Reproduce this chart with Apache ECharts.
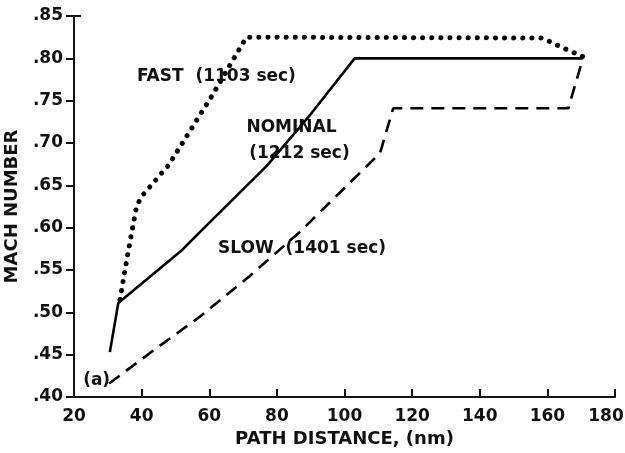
<!DOCTYPE html>
<html>
<head>
<meta charset="utf-8">
<script src="https://cdn.jsdelivr.net/npm/echarts@6/dist/echarts.min.js"></script>
<style>html,body{margin:0;padding:0;background:#fff;}#c{width:625px;height:453px;}</style>
</head>
<body>
<div id="c"></div>
<script>
// Data (x: path distance nm, y: Mach number)
const fastData = [[33.6,0.515],[35.6,0.562],[37.1,0.595],[38.5,0.625],[40.0,0.637],[48.0,0.674],[61.0,0.757],[67.0,0.798],[71.0,0.825],[158.5,0.824],[163.7,0.814],[170.5,0.802]];
const nominalData = [[30.6,0.453],[33.1,0.511],[51.8,0.573],[57.3,0.595],[77.0,0.673],[89.8,0.733],[103.0,0.800],[170.5,0.800]];
const slowData = [[30.4,0.416],[43.5,0.455],[57.3,0.495],[72.0,0.543],[86.8,0.595],[110.5,0.688],[114.4,0.741],[166.2,0.741],[170.5,0.800]];
const xTicks = [20,40,60,80,100,120,140,160,180];
const yTicks = [0.40,0.45,0.50,0.55,0.60,0.65,0.70,0.75,0.80,0.85];
const labelTexts = ['FAST  (1103 sec)','NOMINAL','(1212 sec)','SLOW  (1401 sec)','(a)'];
const labelAnchors = [[38.6,0.778],[71.0,0.7177],[71.8,0.687],[62.6,0.5748],[22.7,0.419]];

const FONT = 'DejaVu Sans';
const xMax = xTicks[xTicks.length-1];
const chart = echarts.init(document.getElementById('c'), null, {renderer:'canvas'});
const option = {
  backgroundColor:'#fff',
  animation:false,
  grid:{left:74,right:10,top:16,bottom:56,containLabel:false,outerBoundsMode:'none'},
  xAxis:{
    type:'value', min:xTicks[0], max:xMax, interval:20,
    name:'PATH DISTANCE, (nm)', nameLocation:'middle', nameGap:31,
    nameTextStyle:{fontFamily:FONT,fontSize:18,color:'#111',fontWeight:'bold'},
    axisLine:{show:true,lineStyle:{color:'#111',width:2}},
    axisTick:{show:true,inside:true,length:8,lineStyle:{color:'#111',width:2}},
    axisLabel:{fontFamily:FONT,fontSize:17,color:'#111',margin:11,fontWeight:'bold',
      formatter:v=> v===xMax ? '{r|'+v+'}' : String(v),
      rich:{r:{fontFamily:FONT,fontSize:17,color:'#111',fontWeight:'bold',padding:[0,18,0,0]}}},
    splitLine:{show:false}
  },
  yAxis:{
    type:'value', min:yTicks[0], max:yTicks[yTicks.length-1], interval:0.05,
    name:'MACH NUMBER', nameLocation:'middle', nameGap:53, nameRotate:90,
    nameTextStyle:{fontFamily:FONT,fontSize:18,color:'#111',fontWeight:'bold'},
    axisLine:{show:true,lineStyle:{color:'#111',width:2}},
    axisTick:{show:true,inside:false,length:8,lineStyle:{color:'#111',width:2}},
    axisLabel:{fontFamily:FONT,fontSize:17,color:'#111',margin:11,fontWeight:'bold',
      formatter:v=>v.toFixed(2).replace(/^0/,'')},
    splitLine:{show:false}
  },
  series:[
    {name:'FAST',type:'line',data:fastData,symbol:'none',smooth:false,
     lineStyle:{color:'#000',width:5,type:[0.1,9],cap:'round'}},
    {name:'NOMINAL',type:'line',data:nominalData,symbol:'none',
     lineStyle:{color:'#000',width:2.6}},
    {name:'SLOW',type:'line',data:slowData,symbol:'none',
     lineStyle:{color:'#000',width:2.6,type:[13,8]}}
  ]
};
chart.setOption(option);

const graphics = labelTexts.map((t,i)=>{
  const p = chart.convertToPixel({gridIndex:0}, labelAnchors[i]);
  return {type:'text', x:p[0], y:p[1], style:{text:t, fontFamily:FONT, fontSize:17, fontWeight:'bold', fill:'#111', textVerticalAlign:'middle', textAlign:'left'}};
});
const topCorner = chart.convertToPixel({gridIndex:0},[xTicks[0],yTicks[yTicks.length-1]]);
graphics.push({type:'line', shape:{x1:topCorner[0], y1:topCorner[1], x2:topCorner[0]+7, y2:topCorner[1]}, style:{stroke:'#111', lineWidth:2}});
chart.setOption({graphic:graphics});
</script>
</body>
</html>
